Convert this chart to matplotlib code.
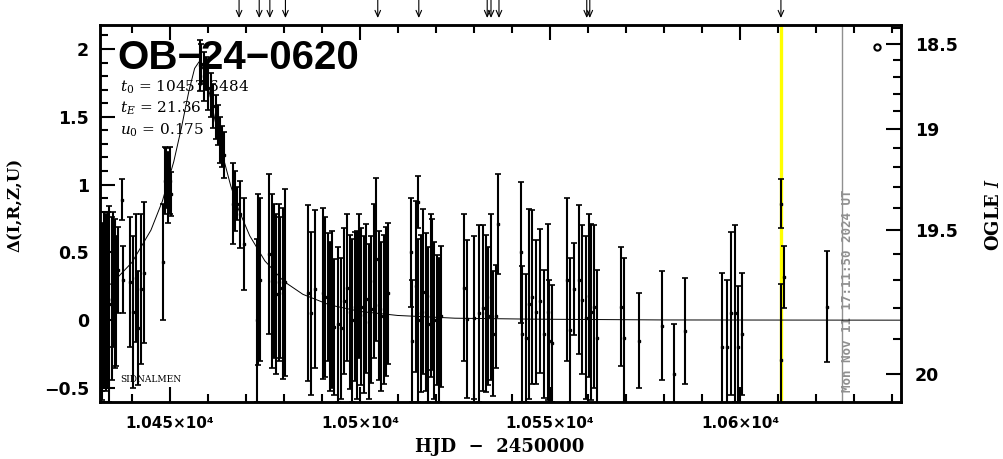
import numpy as np
import matplotlib
matplotlib.use('Agg')
import matplotlib.pyplot as plt
from matplotlib.ticker import FixedLocator, MultipleLocator
from matplotlib.transforms import blended_transform_factory

# ---------------- data ----------------
hjd = [10432.0, 10432.1, 10432.6, 10433.3, 10433.7, 10434.0, 10434.7, 10434.9, 10435.5, 10435.7,
       10436.4, 10437.3, 10437.6, 10439.5, 10440.3, 10441.2, 10441.5, 10442.3, 10443.2, 10448.3,
       10448.7, 10449.1, 10449.6, 10450.0, 10450.4,
       10457.9, 10458.3, 10458.9, 10459.5, 10460.1, 10460.7, 10461.4, 10462.0, 10462.6, 10463.2,
       10463.7, 10464.3, 10466.7, 10467.1, 10467.6, 10468.4, 10469.5, 10472.8,
       10473.2, 10473.6, 10476.2, 10476.8, 10477.4, 10478.0, 10478.6, 10479.1, 10479.7, 10480.3,
       10486.3, 10487.0, 10488.3, 10490.3, 10490.7, 10491.6, 10492.0, 10492.6, 10493.3, 10494.2,
       10495.0, 10495.9, 10496.7, 10497.3, 10498.0, 10498.6, 10499.2, 10499.8, 10500.4, 10501.1,
       10501.7, 10502.4, 10503.0, 10503.7, 10504.3, 10504.9, 10505.6, 10506.3, 10506.9, 10507.5,
       10513.5, 10513.6, 10514.8,
       10515.2, 10515.4, 10516.0, 10516.7, 10517.4, 10518.0, 10518.7, 10519.1, 10519.6, 10520.2,
       10520.7, 10521.3, 10527.5, 10528.3, 10530.1, 10531.4, 10532.3, 10533.2, 10533.6, 10534.5,
       10535.1, 10535.8, 10536.4, 10542.5, 10542.7, 10543.7, 10544.5, 10545.4, 10546.3, 10547.3,
       10548.5, 10549.4, 10549.8, 10550.5, 10554.6, 10555.3, 10556.4,
       10557.6, 10558.5, 10559.4, 10560.3, 10560.9, 10561.6, 10562.3, 10568.6, 10569.6, 10573.4,
       10579.5, 10582.6, 10585.5, 10595.4, 10596.5, 10597.6, 10598.6, 10599.6, 10600.6,
       10610.8, 10610.9, 10611.6, 10622.9]
delta = [0.10, 0.06, 0.15, 0.13, 0.15, 0.12, 0.16, 0.30, 0.20, 0.14,
         0.37, 0.89, 0.30, 0.28, 0.06, 0.31, -0.06, 0.23, 0.35, 0.43,
         1.03, 1.05, 0.98, 1.03, 0.93,
         1.88, 1.89, 1.80, 1.82, 1.71, 1.66, 1.58, 1.50, 1.44, 1.33,
         1.28, 1.22, 0.86, 0.88, 0.86, 0.78, 0.56, 0.00,
         0.30, 0.30, 0.49, 0.29, 0.29, 0.19, 0.28, 0.24, 0.20, 0.28,
         0.20, 0.05, 0.23, 0.20, 0.17, 0.17, 0.03, 0.08, -0.05, -0.03,
         -0.06, 0.14, 0.24, 0.06, 0.00, 0.10, 0.04, 0.25, 0.10, 0.04,
         0.16, -0.01, 0.08, 0.29, 0.45, 0.11, 0.03, 0.08, 0.14, 0.20,
         0.50, -0.15, 0.25,
         0.00, 0.87, 0.05, 0.21, 0.06, -0.03, 0.18, 0.19, 0.00, 0.00,
         -0.07, 0.03, 0.24, 0.01, 0.02, 0.05, 0.09, 0.05, 0.03, 0.17,
         -0.10, 0.03, 0.71, 0.50, -0.10, -0.13, 0.12, 0.17, 0.06, 0.14,
         -0.10, 0.06, -0.15, -0.17, 0.30, -0.07, 0.23,
         0.30, 0.15, 0.02, 0.18, 0.06, 0.10, -0.13, 0.10, -0.13, -0.15,
         -0.04, -0.40, -0.08, -0.20, -0.20, 0.05, 0.05, -0.20, -0.10,
         0.86, -0.29, 0.32, 0.10]
err = [0.62, 0.65, 0.65, 0.65, 0.65, 0.72, 0.60, 0.50, 0.55, 0.48,
       0.32, 0.15, 0.25, 0.48, 0.56, 0.47, 0.42, 0.55, 0.52, 0.43,
       0.25, 0.22, 0.26, 0.25, 0.16,
       0.19, 0.15, 0.18, 0.12, 0.16, 0.16, 0.16, 0.16, 0.15, 0.17,
       0.15, 0.17, 0.30, 0.22, 0.12, 0.25, 0.34, 0.60,
       0.63, 0.60, 0.59, 0.64, 0.57, 0.59, 0.58, 0.52, 0.63, 0.69,
       0.65, 0.60, 0.58, 0.63, 0.59, 0.47, 0.55, 0.58, 0.50, 0.57,
       0.52, 0.54, 0.54, 0.57, 0.60, 0.55, 0.62, 0.53, 0.58, 0.58,
       0.55, 0.57, 0.54, 0.57, 0.60, 0.55, 0.55, 0.55, 0.55, 0.52,
       0.40, 0.45, 0.63,
       0.60, 0.19, 0.58, 0.61, 0.58, 0.57, 0.60, 0.56, 0.58, 0.48,
       0.53, 0.52, 0.54, 0.58, 0.60, 0.65, 0.61, 0.58, 0.51, 0.61,
       0.46, 0.38, 0.37, 0.52, 0.50, 0.47, 0.70, 0.64, 0.53, 0.53,
       0.47, 0.65, 0.45, 0.43, 0.60, 0.53, 0.34,
       0.55, 0.55, 0.60, 0.60, 0.65, 0.60, 0.50, 0.44, 0.59, 0.35,
       0.40, 0.37, 0.39, 0.55, 0.50, 0.60, 0.65, 0.45, 0.45,
       0.18, 0.56, 0.23, 0.41]

model_hjd = [10431.6, 10435.0, 10440.0, 10445.0, 10448.0, 10451.0, 10453.0, 10455.0, 10456.5,
             10457.65, 10459.0, 10460.5, 10462.0, 10464.0, 10466.0, 10468.0, 10471.0, 10475.0,
             10480.0, 10485.0, 10492.0, 10500.0, 10510.0, 10525.0, 10545.0, 10580.0, 10642.4]
model_delta = [0.212, 0.279, 0.426, 0.664, 0.877, 1.168, 1.416, 1.690, 1.857,
               1.905, 1.840, 1.664, 1.456, 1.203, 0.992, 0.821, 0.623, 0.437,
               0.286, 0.191, 0.113, 0.065, 0.035, 0.015, 0.008, 0.002, 0.0005]

arrow_hjd = [10468.2, 10473.5, 10476.3, 10480.4, 10504.7, 10515.5, 10533.5, 10534.5,
             10536.6, 10559.7, 10560.5, 10610.8]

xtick_vals = [10450, 10500, 10550, 10600]
xtick_labels = ['1.045×10⁴', '1.05×10⁴', '1.055×10⁴', '1.06×10⁴']
ytick_vals = [-0.5, 0, 0.5, 1, 1.5, 2]
ytick_labels = ['−0.5', '0', '0.5', '1', '1.5', '2']
ogle_major = [18.5, 19.0, 19.5, 20.0]
ogle_labels = ['18.5', '19', '19.5', '20']
ogle_minor = [18.4, 18.6, 18.7, 18.8, 18.9, 19.1, 19.2, 19.3, 19.4, 19.6, 19.7, 19.8, 19.9]

event_name = 'OB−24−0620'
t0_text = '10457.6484'
tE_text = '21.36'
u0_text = '0.175'
now_hjd = 10610.8
date_hjd = 10626.8
date_text = 'Mon Nov 11 17:11:50 2024 UT'

# magnitude <-> delta mapping of the right axis
FS, FB = 0.51, 0.6466
def mag_to_delta(m):
    m = np.asarray(m, dtype=float)
    return 2.5 * np.log10((10 ** (-0.4 * (m - 20.0)) - FB) / FS)

# ---------------- figure ----------------
plt.rcParams['mathtext.fontset'] = 'dejavuserif'
fig = plt.figure(figsize=(10.04, 4.59), dpi=100)
ax = fig.add_axes([100 / 1004, 1 - 402 / 459, 801 / 1004, 377 / 459])
xlim = (10431.6, 10642.4)
ylim = (-0.603, 2.177)
ax.set_xlim(*xlim)
ax.set_ylim(*ylim)

ax.axvline(now_hjd, color='#ffff00', lw=2.4, zorder=1)
ax.axvline(date_hjd, color='#909090', lw=1.0, zorder=1)

ax.errorbar(hjd, delta, yerr=err, fmt='s', ms=1.6, color='black', ecolor='black',
            elinewidth=1.5, capsize=2.0, capthick=1.2, zorder=3)
ax.plot(model_hjd, model_delta, color='black', lw=0.7, zorder=4)

# legend symbol
ax.plot([10636.0], [2.013], marker='o', ms=4.5, mfc='none', mec='black', mew=1.5, zorder=5)

# ticks
ax.set_xticks(xtick_vals)
ax.set_xticklabels(xtick_labels, fontsize=11, fontweight='bold', family='DejaVu Sans')
ax.xaxis.set_minor_locator(MultipleLocator(10))
ax.set_yticks(ytick_vals)
ax.set_yticklabels(ytick_labels, fontsize=12.5, fontweight='bold', family='DejaVu Sans')
ax.yaxis.set_minor_locator(MultipleLocator(0.1))
ax.tick_params(axis='x', which='both', direction='in', top=True, bottom=True, width=1.5)
ax.tick_params(axis='x', which='major', length=11, pad=10)
ax.tick_params(axis='x', which='minor', length=6)
ax.tick_params(axis='y', which='both', direction='in', left=True, right=False, width=1.5)
ax.tick_params(axis='y', which='major', length=11, pad=8)
ax.tick_params(axis='y', which='minor', length=6)
for s in ax.spines.values():
    s.set_linewidth(1.8)

ax2 = ax.twinx()
ax2.set_ylim(*ylim)
ax2.yaxis.set_major_locator(FixedLocator(mag_to_delta(ogle_major)))
ax2.yaxis.set_minor_locator(FixedLocator(mag_to_delta(ogle_minor)))
ax2.set_yticklabels(ogle_labels, fontsize=12.5, fontweight='bold', family='DejaVu Sans')
ax2.tick_params(axis='y', which='both', direction='in', width=1.5)
ax2.tick_params(axis='y', which='major', length=11, pad=10)
ax2.tick_params(axis='y', which='minor', length=6)
for s in ax2.spines.values():
    s.set_linewidth(1.8)

# texts inside
ax.text(10436.3, 1.935, event_name, fontsize=29, fontweight='bold', family='Liberation Sans',
        va='center', ha='left', zorder=2)
ax.text(10436.8, 1.72, r'$t_0$ = ' + t0_text, fontsize=11, family='DejaVu Serif', va='center', zorder=2)
ax.text(10436.8, 1.56, r'$t_E$ = ' + tE_text, fontsize=11, family='DejaVu Serif', va='center', zorder=2)
ax.text(10436.8, 1.40, r'$u_0$ = ' + u0_text, fontsize=11, family='DejaVu Serif', va='center', zorder=2)
ax.text(10436.8, -0.44, 'SIDNALMEN', fontsize=6.5, family='DejaVu Serif', va='center', zorder=2)

trans = blended_transform_factory(ax.transData, ax.transAxes)
ax.text(10628.4, 0.027, date_text, rotation=90, fontsize=9, fontweight='bold',
        family='DejaVu Sans Mono', color='#909090', ha='center', va='bottom', transform=trans)

for t in arrow_hjd:
    ax.annotate('', xy=(t, 1 + 7 / 377), xytext=(t, 1 + 25 / 377), xycoords=trans,
                textcoords=trans, annotation_clip=False,
                arrowprops=dict(arrowstyle='->,head_length=0.45,head_width=0.2', lw=0.8,
                                color='black', shrinkA=0, shrinkB=0))

# axis labels
fig.text(500 / 1004, 1 - 447 / 459, 'HJD  −  2450000', fontsize=13, fontweight='bold',
         family='DejaVu Serif', ha='center', va='center')
fig.text(15 / 1004, 1 - 205 / 459, 'Δ(I,R,Z,U)', fontsize=12, fontweight='bold',
         family='DejaVu Serif', rotation=90, ha='center', va='center')
fig.text(994 / 1004, 1 - 214 / 459, r'OGLE $\mathbf{\mathit{I}}$', fontsize=13, fontweight='bold',
         family='DejaVu Serif', rotation=90, ha='center', va='center')

fig.savefig('out.png', dpi=100)
